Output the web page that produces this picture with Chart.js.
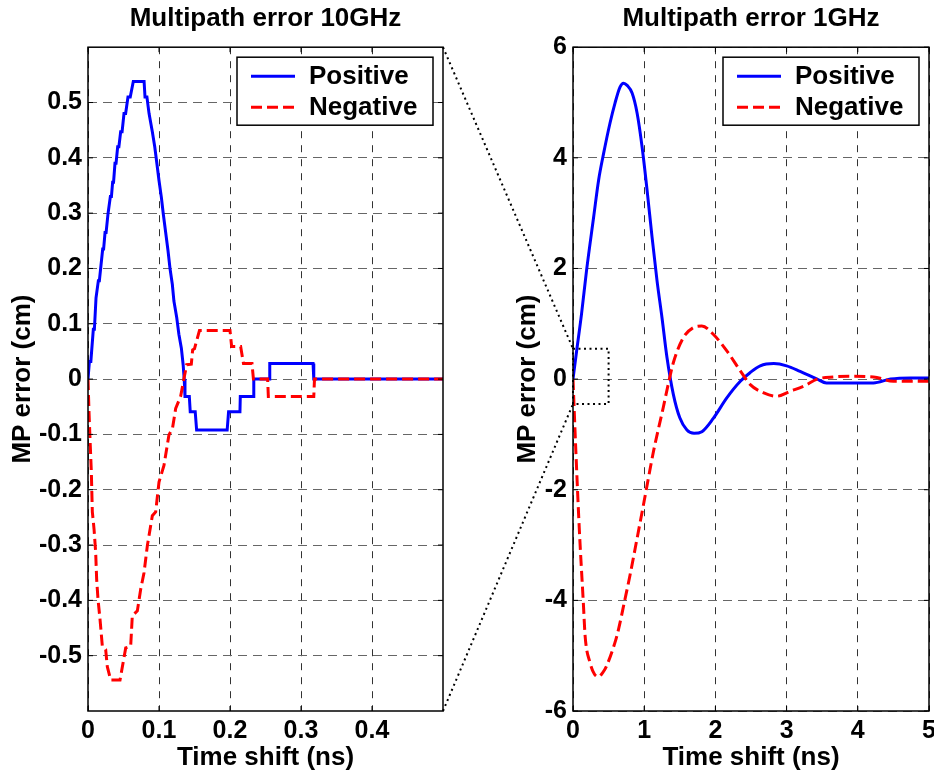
<!DOCTYPE html>
<html>
<head>
<meta charset="utf-8">
<script src="https://cdn.jsdelivr.net/npm/chart.js@4.4.0/dist/chart.umd.min.js"></script>
<style>
  html, body { margin: 0; padding: 0; background: #fff; }
  #wrap { position: relative; width: 934px; height: 776px; overflow: hidden; }
  canvas { position: absolute; top: 0; }
</style>
</head>
<body>
<div id="wrap">
  <canvas id="left" width="460" height="776" style="left:0"></canvas>
  <canvas id="right" width="434" height="776" style="left:500px"></canvas>
  <canvas id="overlay" width="934" height="776" style="left:0;pointer-events:none"></canvas>
</div>
<script>
// 10 GHz, positive (time in ns, error in cm)
const posTime10 = [0, 0.002, 0.004, 0.0075, 0.009, 0.0113, 0.0125, 0.0146, 0.016, 0.0207, 0.022, 0.024, 0.0255,
  0.0282, 0.0295, 0.0315, 0.033, 0.0347, 0.036, 0.038, 0.0395, 0.0418, 0.0435, 0.046, 0.048, 0.0507, 0.053,
  0.0563, 0.0595, 0.0638, 0.079, 0.0803, 0.083, 0.086, 0.0906, 0.094, 0.0967, 0.1, 0.1033, 0.106, 0.1094,
  0.1127, 0.1155, 0.1188, 0.121, 0.125, 0.128, 0.1315, 0.134, 0.1355, 0.1366, 0.1427, 0.144, 0.151, 0.153,
  0.196, 0.198, 0.214, 0.2145, 0.233, 0.2335, 0.255, 0.256, 0.317, 0.318, 0.5];
const posErr10 = [0, 0.032, 0.032, 0.09, 0.09, 0.147, 0.147, 0.178, 0.178, 0.235, 0.235, 0.265, 0.265,
  0.299, 0.299, 0.33, 0.33, 0.356, 0.356, 0.39, 0.39, 0.42, 0.42, 0.447, 0.447, 0.48, 0.48,
  0.51, 0.51, 0.538, 0.538, 0.51, 0.51, 0.48, 0.447, 0.42, 0.393, 0.359, 0.329, 0.299, 0.265,
  0.232, 0.2, 0.171, 0.141, 0.111, 0.081, 0.056, 0.026, 0, -0.0315, -0.0315, -0.059, -0.059, -0.092,
  -0.092, -0.059, -0.059, -0.0315, -0.0315, 0, 0, 0.028, 0.028, 0, 0];

// 10 GHz, negative
const negTime10 = [0, 0.0014, 0.0028, 0.0047, 0.0061, 0.0085, 0.0108, 0.0122, 0.0141, 0.0169, 0.0202, 0.0249,
  0.0272, 0.032, 0.0451, 0.0484, 0.0531, 0.0601, 0.0624, 0.0695, 0.0742, 0.0789, 0.0836, 0.0906, 0.0953,
  0.1, 0.107, 0.114, 0.119, 0.1235, 0.1305, 0.135, 0.139, 0.1455, 0.1474, 0.15, 0.157, 0.2, 0.2023, 0.215,
  0.219, 0.231, 0.233, 0.253, 0.254, 0.318, 0.319, 0.5];
const negErr10 = [0, -0.059, -0.107, -0.168, -0.24, -0.271, -0.313, -0.362, -0.398, -0.434, -0.483, -0.489,
  -0.52, -0.544, -0.544, -0.52, -0.486, -0.483, -0.428, -0.419, -0.38, -0.35, -0.301, -0.247, -0.24,
  -0.186, -0.156, -0.101, -0.089, -0.053, -0.031, 0, 0.026, 0.027, 0.053, 0.055, 0.088, 0.088, 0.059, 0.059,
  0.028, 0.028, 0, 0, -0.0315, -0.0315, 0, 0];

// 1 GHz, positive
const posTime1 = [0, 0.05, 0.12, 0.19, 0.29, 0.36, 0.43, 0.52, 0.59, 0.66, 0.71, 0.76, 0.83, 0.9, 0.97, 1.04,
  1.11, 1.18, 1.25, 1.32, 1.41, 1.5, 1.6, 1.7, 1.81, 1.97, 2.16, 2.35, 2.49, 2.63, 2.82, 3.0, 3.19, 3.43,
  3.56, 3.85, 4.22, 4.46, 4.74, 5.0];
const posErr1 = [0, 0.5, 1.18, 1.96, 2.93, 3.6, 4.08, 4.63, 4.99, 5.28, 5.35, 5.31, 5.17, 4.81, 4.2, 3.42,
  2.57, 1.78, 1.11, 0.39, -0.28, -0.7, -0.92, -0.98, -0.95, -0.71, -0.34, -0.04, 0.12, 0.24, 0.28, 0.24, 0.14, 0,
  -0.07, -0.07, -0.07, 0, 0.02, 0.02];

// 1 GHz, negative
const negTime1 = [0, 0.04, 0.09, 0.145, 0.17, 0.24, 0.3, 0.36, 0.42, 0.47, 0.59, 0.64, 0.72, 0.8, 0.9, 1.0,
  1.13, 1.27, 1.34, 1.41, 1.55, 1.69, 1.81, 1.97, 2.16, 2.35, 2.49, 2.68, 2.86, 3.05, 3.24, 3.43, 3.66, 3.9,
  4.22, 4.5, 5.0];
const negErr1 = [0, -1.3, -2.75, -4.04, -4.64, -5.13, -5.33, -5.38, -5.3, -5.19, -4.76, -4.52, -4.04, -3.55,
  -2.88, -2.2, -1.31, -0.5, -0.08, 0.3, 0.75, 0.93, 0.96, 0.81, 0.51, 0.15, -0.1, -0.25, -0.31, -0.22, -0.13,
  0, 0.04, 0.05, 0.04, -0.04, -0.04];

const seriesNames = ['Positive', 'Negative'];
const titles = ['Multipath error 10GHz', 'Multipath error 1GHz'];
const xTitle = 'Time shift (ns)';
const yTitle = 'MP error (cm)';

// axis ranges [min, max, step]
const xRange10 = [0, 0.5, 0.1];
const yRange10 = [-0.6, 0.6, 0.1];
const xRange1 = [0, 5, 1];
const yRange1 = [-6, 6, 2];

// dotted zoom box drawn on the 1GHz plot [tMin, tMax, errMin, errMax]
const zoomBox = [0, 0.5, -0.45, 0.55];

const FONT = "'Liberation Sans', Arial, Helvetica, sans-serif";
Chart.defaults.font.family = FONT;
Chart.defaults.color = '#000';

const pts = (xs, ys) => xs.map((x, i) => ({ x: x, y: ys[i] }));

const frame = {
  id: 'frame',
  afterDraw(chart) {
    const { ctx, chartArea: a } = chart;
    const sx = chart.scales.x, sy = chart.scales.y;
    ctx.save();
    const zb = chart.options.plugins.frame.zoomBox;
    if (zb) {
      const x0 = sx.getPixelForValue(zb[0]), x1 = sx.getPixelForValue(zb[1]);
      const y0 = sy.getPixelForValue(zb[3]), y1 = sy.getPixelForValue(zb[2]);
      ctx.setLineDash([2, 3.5]);
      ctx.lineWidth = 2;
      ctx.strokeStyle = '#000';
      ctx.strokeRect(x0, y0, x1 - x0, y1 - y0);
      ctx.setLineDash([]);
    }
    // small inward tick marks on all four sides
    ctx.strokeStyle = '#000';
    ctx.lineWidth = 1;
    ctx.beginPath();
    sx.ticks.forEach(t => {
      const px = sx.getPixelForValue(t.value);
      ctx.moveTo(px, a.bottom); ctx.lineTo(px, a.bottom - 5);
      ctx.moveTo(px, a.top); ctx.lineTo(px, a.top + 5);
    });
    sy.ticks.forEach(t => {
      const py = sy.getPixelForValue(t.value);
      ctx.moveTo(a.left, py); ctx.lineTo(a.left + 5, py);
      ctx.moveTo(a.right, py); ctx.lineTo(a.right - 5, py);
    });
    ctx.stroke();

    ctx.lineWidth = 1.5;
    ctx.strokeRect(a.left, a.top, a.right - a.left, a.bottom - a.top);

    // legend box, top right inside the plot
    const w = 196, h = 68;
    const lx = a.right - 10 - w, ly = a.top + 10;
    ctx.fillStyle = '#fff';
    ctx.fillRect(lx, ly, w, h);
    ctx.strokeRect(lx, ly, w, h);
    chart.data.datasets.forEach((ds, i) => {
      const y = ly + 19 + i * 31;
      ctx.strokeStyle = ds.borderColor;
      ctx.lineWidth = 3;
      ctx.setLineDash(ds.borderDash || []);
      ctx.beginPath();
      ctx.moveTo(lx + 14, y);
      ctx.lineTo(lx + 58, y);
      ctx.stroke();
      ctx.setLineDash([]);
      ctx.fillStyle = '#000';
      ctx.font = 'bold 26px ' + FONT;
      ctx.textBaseline = 'middle';
      ctx.fillText(ds.label, lx + 72, y + 1);
    });
    ctx.restore();
  }
};

function makeChart(id, opt) {
  const tickFont = { size: 25, weight: 'bold' };
  const labelFont = { size: 26, weight: 'bold' };
  return new Chart(document.getElementById(id), {
    type: 'line',
    data: {
      datasets: [
        {
          label: seriesNames[0], data: opt.pos, borderColor: '#0000ff', borderWidth: 3,
          pointRadius: 0, fill: false, order: 1, tension: opt.tension,
          cubicInterpolationMode: opt.smooth ? 'monotone' : 'default'
        },
        {
          label: seriesNames[1], data: opt.neg, borderColor: '#ff0000', borderWidth: 3,
          borderDash: [11, 5], pointRadius: 0, fill: false, order: 0, tension: opt.tension,
          cubicInterpolationMode: opt.smooth ? 'monotone' : 'default'
        }
      ]
    },
    options: {
      responsive: false,
      animation: false,
      devicePixelRatio: 1,
      events: [],
      layout: { padding: opt.padding },
      plugins: {
        legend: { display: false },
        tooltip: { enabled: false },
        title: {
          display: true, text: opt.title, fullSize: false, color: '#000',
          font: labelFont, padding: { top: 3, bottom: 13 }
        },
        frame: { zoomBox: opt.zoomBox }
      },
      scales: {
        x: {
          type: 'linear', min: opt.xr[0], max: opt.xr[1],
          grid: { color: '#333', lineWidth: 1, drawTicks: false },
          border: { display: false, dash: [7, 7] },
          ticks: {
            stepSize: opt.xr[2], font: tickFont, padding: 5, autoSkip: false, maxRotation: 0,
            callback: opt.xLabel
          },
          title: { display: true, text: xTitle, font: labelFont, padding: { top: 0, bottom: 3 } },
          afterFit(s) { s.height = 65; s.paddingLeft = 0; s.paddingRight = 0; }
        },
        y: {
          min: opt.yr[0], max: opt.yr[1],
          grid: { color: '#666', lineWidth: 1, drawTicks: false },
          border: { display: false, dash: [9, 6] },
          ticks: {
            stepSize: opt.yr[2], font: tickFont, padding: 6, autoSkip: false,
            callback: opt.yLabel
          },
          title: { display: true, text: yTitle, font: labelFont, padding: { top: opt.yTitlePad, bottom: 0 } },
          afterFit(s) { s.width = opt.yWidth; s.paddingTop = 0; s.paddingBottom = 0; }
        }
      }
    },
    plugins: [frame]
  });
}

const left = makeChart('left', {
  pos: pts(posTime10, posErr10), neg: pts(negTime10, negErr10), tension: 0, smooth: false,
  title: titles[0], xr: xRange10, yr: yRange10, yWidth: 88, yTitlePad: 7,
  padding: { left: 0, right: 17, top: 0, bottom: 0 },
  xLabel: v => (v > 0.45 ? null : String(+v.toFixed(1))),
  yLabel: v => (Math.abs(v) > 0.55 ? null : String(+v.toFixed(1)))
});

const right = makeChart('right', {
  pos: pts(posTime1, posErr1), neg: pts(negTime1, negErr1), tension: 0.4, smooth: true,
  title: titles[1], xr: xRange1, yr: yRange1, yWidth: 73, yTitlePad: 12, zoomBox: zoomBox,
  padding: { left: 0, right: 5, top: 0, bottom: 0 },
  xLabel: v => String(v),
  yLabel: v => String(v)
});

// dotted connector lines from the 10GHz plot corners to the zoom box
const ov = document.getElementById('overlay').getContext('2d');
const rightOffset = 500;
const L = left.scales, R = right.scales;
const links = [
  [L.x.getPixelForValue(xRange10[1]), L.y.getPixelForValue(yRange10[1]),
   rightOffset + R.x.getPixelForValue(zoomBox[0]), R.y.getPixelForValue(zoomBox[3])],
  [L.x.getPixelForValue(xRange10[1]), L.y.getPixelForValue(yRange10[0]),
   rightOffset + R.x.getPixelForValue(zoomBox[0]), R.y.getPixelForValue(zoomBox[2])]
];
ov.strokeStyle = '#000';
ov.lineWidth = 2;
ov.setLineDash([2, 3.5]);
links.forEach(l => {
  ov.beginPath();
  ov.moveTo(l[0], l[1]);
  ov.lineTo(l[2], l[3]);
  ov.stroke();
});
</script>
</body>
</html>
